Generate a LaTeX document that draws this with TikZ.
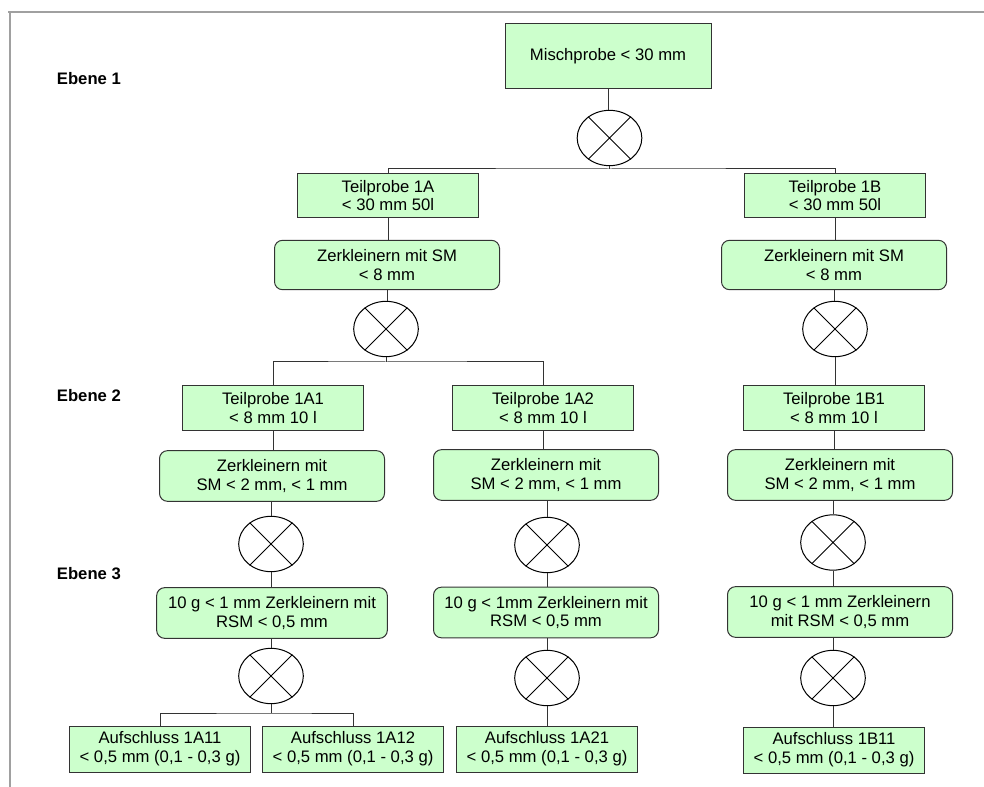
\documentclass[tikz,border=0pt]{standalone}
\usepackage{fontspec}
\setmainfont{Liberation Sans}
\usetikzlibrary{shapes.geometric}
\definecolor{ProbeGreen}{RGB}{204,255,204}
\definecolor{LineGray}{RGB}{51,51,51}
\definecolor{FrameGray}{RGB}{160,160,160}
\tikzset{
  probe/.style={draw=LineGray,fill=ProbeGreen,line width=.75pt,align=center,inner sep=0pt,
    font=\fontsize{12.5}{14}\selectfont},
  zerkl/.style={probe,rounded corners=6pt,minimum width=168.75pt,minimum height=38pt},
  teil/.style={probe,minimum width=136pt,minimum height=33.5pt},
  mixer/.style={ellipse,draw=black,line width=.75pt,minimum width=48.5pt,minimum height=41.5pt,inner sep=0pt},
  ebene/.style={anchor=west,font=\fontsize{12.5}{14}\selectfont\bfseries}
}
\newcommand\kreuz[1]{\draw[line width=.75pt] (#1.45)--(#1.225) (#1.135)--(#1.315);}
\begin{document}
\begin{tikzpicture}[x=.75pt,y=-.75pt,line width=.75pt]
\useasboundingbox (0,0) rectangle (984,787);
\draw[FrameGray,line width=1.5pt] (8,12)--(984,12) (10,12)--(10,787);
\node[ebene] (e1) at (52,78.5) {Ebene 1};
\node[ebene] (e2) at (52,396) {Ebene 2};
\node[ebene] (e3) at (52,574) {Ebene 3};
\node[probe,minimum width=154.5pt,minimum height=48.75pt] (misch) at (608,56.5) {Mischprobe < 30 mm};
\node[mixer] (m0) at (609.5,138) {};
\node[teil] (t1a) at (388,195.5) {Teilprobe 1A\\< 30 mm 50l};
\node[teil] (t1b) at (835,195.5) {Teilprobe 1B\\< 30 mm 50l};
\node[zerkl,minimum height=37pt] (z1a) at (387,265) {Zerkleinern mit SM\\< 8 mm};
\node[zerkl,minimum height=37pt] (z1b) at (834,265) {Zerkleinern mit SM\\< 8 mm};
\node[mixer] (m1a) at (386,329) {};
\node[mixer] (m1b) at (835,329) {};
\node[teil] (t1a1) at (273,408) {Teilprobe 1A1\\< 8 mm 10 l};
\node[teil] (t1a2) at (543,408) {Teilprobe 1A2\\< 8 mm 10 l};
\node[teil] (t1b1) at (834,408) {Teilprobe 1B1\\< 8 mm 10 l};
\node[zerkl] (z1a1) at (272,476) {Zerkleinern mit\\SM < 2 mm, < 1 mm};
\node[zerkl] (z1a2) at (546,475) {Zerkleinern mit\\SM < 2 mm, < 1 mm};
\node[zerkl] (z1b1) at (840,475) {Zerkleinern mit\\SM < 2 mm, < 1 mm};
\node[mixer] (m1a1) at (271,544) {};
\node[mixer] (m1a2) at (547,545) {};
\node[mixer] (m1b1) at (833,542.5) {};
\node[zerkl,minimum width=173pt] (g1a1) at (272,613) {10 g < 1 mm Zerkleinern mit\\RSM < 0,5 mm};
\node[zerkl] (g1a2) at (546,612.5) {10 g < 1mm Zerkleinern mit\\RSM < 0,5 mm};
\node[zerkl] (g1b1) at (840,612) {10 g < 1 mm Zerkleinern\\mit RSM < 0,5 mm};
\node[mixer] (n1a1) at (271,676) {};
\node[mixer] (n1a2) at (547,678) {};
\node[mixer] (n1b1) at (833,678) {};
\node[teil,minimum height=34.5pt] (a1a11) at (160,749) {Aufschluss 1A11\\< 0,5 mm (0,1 - 0,3 g)};
\node[teil,minimum height=34.5pt] (a1a12) at (353,749) {Aufschluss 1A12\\< 0,5 mm (0,1 - 0,3 g)};
\node[teil,minimum height=34.5pt] (a1a21) at (547,749) {Aufschluss 1A21\\< 0,5 mm (0,1 - 0,3 g)};
\node[teil,minimum height=34.5pt] (a1b11) at (834,750) {Aufschluss 1B11\\< 0,5 mm (0,1 - 0,3 g)};
\foreach \m in {m0,m1a,m1b,m1a1,m1a2,m1b1,n1a1,n1a2,n1b1} {\kreuz{\m}}
\coordinate (j0) at (609.5,169);
\coordinate (j1) at (386,362);
\coordinate (j2) at (271,713);
\draw[LineGray] (misch.south)--(misch.south |- m0.north);
\draw[LineGray] (m0.south)--(j0) (t1a.north) |- (j0) -| (t1b.north);
\draw[LineGray] (t1a.south)--(t1a.south |- z1a.north) (z1a.south)--(z1a.south |- m1a.north);
\draw[LineGray] (t1b.south)--(t1b.south |- z1b.north) (z1b.south)--(z1b.south |- m1b.north);
\draw[LineGray] (m1a.south)--(j1) (t1a1.north) |- (j1) -| (t1a2.north);
\draw[LineGray] (m1b.south)--(m1b.south |- t1b1.north);
\draw[LineGray] (t1a1.south)--(t1a1.south |- z1a1.north) (m1a1.north |- z1a1.south)--(m1a1.north)
  (m1a1.south)--(m1a1.south |- g1a1.north) (m1a1.south |- g1a1.south)--(n1a1.north);
\draw[LineGray] (t1a2.south)--(t1a2.south |- z1a2.north) (m1a2.north |- z1a2.south)--(m1a2.north)
  (m1a2.south)--(m1a2.south |- g1a2.north) (m1a2.south |- g1a2.south)--(n1a2.north)
  (n1a2.south)--(n1a2.south |- a1a21.north);
\draw[LineGray] (t1b1.south)--(t1b1.south |- z1b1.north) (m1b1.north |- z1b1.south)--(m1b1.north)
  (m1b1.south)--(m1b1.south |- g1b1.north) (m1b1.south |- g1b1.south)--(n1b1.north)
  (n1b1.south)--(n1b1.south |- a1b11.north);
\draw[LineGray] (n1a1.south)--(j2) (a1a11.north) |- (j2) -| (a1a12.north);
\end{tikzpicture}
\end{document}
